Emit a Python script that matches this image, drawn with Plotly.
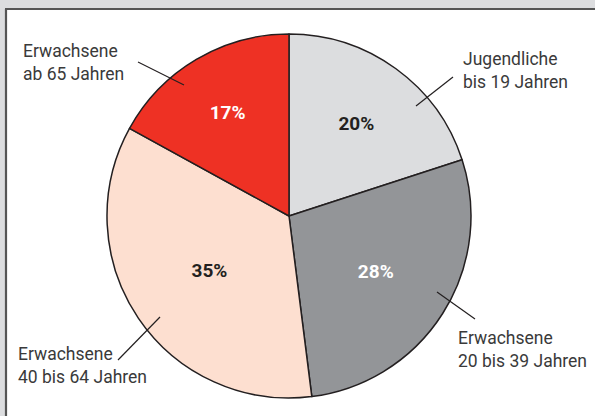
import plotly.graph_objects as go

W, H = 595, 416

# Data
categories = ["Jugendliche<br>bis 19 Jahren", "Erwachsene<br>20 bis 39 Jahren",
              "Erwachsene<br>40 bis 64 Jahren", "Erwachsene<br>ab 65 Jahren"]
shares = [20, 28, 35, 17]
slice_colors = ["#dcdddf", "#939598", "#fddfd0", "#ee3124"]
text_colors = ["#231f20", "#ffffff", "#231f20", "#ffffff"]

FONT = "Roboto, Liberation Sans Narrow, sans-serif"

def px(x, y):
    return x / W, 1 - y / H

fig = go.Figure()
fig.add_trace(go.Pie(
    labels=categories,
    values=shares,
    sort=False,
    direction="clockwise",
    rotation=0,
    marker=dict(colors=slice_colors, line=dict(color="#231f20", width=1.5)),
    texttemplate="<b>%{value}%</b>",
    textinfo="text",
    textposition="inside",
    insidetextorientation="horizontal",
    textfont=dict(family=FONT, size=19, color=text_colors),
    domain=dict(x=[107 / W, 471 / W], y=[(200 - 182) / H, (200 + 182) / H]),
    showlegend=False,
    hoverinfo="label+percent",
))

# outside labels (text, left x, middle y)
ext_labels = [
    ("Erwachsene<br>ab 65 Jahren", 21, 62),
    ("Jugendliche<br>bis 19 Jahren", 461, 71),
    ("Erwachsene<br>40 bis 64 Jahren", 16, 365),
    ("Erwachsene<br>20 bis 39 Jahren", 456, 349),
]
annotations = []
for txt, x, y in ext_labels:
    ax, ay = px(x, y)
    annotations.append(dict(text=txt, x=ax, y=ay, xref="paper", yref="paper",
                            xanchor="left", yanchor="middle", align="left",
                            showarrow=False,
                            font=dict(family=FONT, size=17.5, color="#3a3a3a")))

leaders = [((138, 62), (184, 85)), ((453, 77), (416, 106)),
           ((118, 360), (160, 317)), ((437, 292), (475, 319))]
shapes = [
    dict(type="rect", xref="paper", yref="paper", x0=6 / W, x1=1.0, y0=0.0, y1=1 - 9 / H,
         fillcolor="white", line=dict(width=0), layer="below"),
    dict(type="line", xref="paper", yref="paper", x0=5 / W, x1=1.0, y0=1 - 9 / H, y1=1 - 9 / H,
         line=dict(color="#555555", width=2.2)),
    dict(type="line", xref="paper", yref="paper", x0=6 / W, x1=6 / W, y0=0.0, y1=1 - 9 / H,
         line=dict(color="#555555", width=2.2)),
]
for (x0, y0), (x1, y1) in leaders:
    a0, b0 = px(x0, y0)
    a1, b1 = px(x1, y1)
    shapes.append(dict(type="line", xref="paper", yref="paper", x0=a0, y0=b0, x1=a1, y1=b1,
                       line=dict(color="#231f20", width=1.2)))

fig.update_layout(
    width=W, height=H,
    margin=dict(l=0, r=0, t=0, b=0),
    paper_bgcolor="#dcdddf",
    plot_bgcolor="white",
    shapes=shapes,
    annotations=annotations,
)

fig.write_html(
    "out.html",
    config={"displayModeBar": False},
    post_script=(
        "document.body.style.margin='0';document.body.style.padding='0';"
        "document.body.style.overflow='hidden';"
        "document.documentElement.style.overflow='hidden';"
        "document.documentElement.style.background='white';"
    ),
)
